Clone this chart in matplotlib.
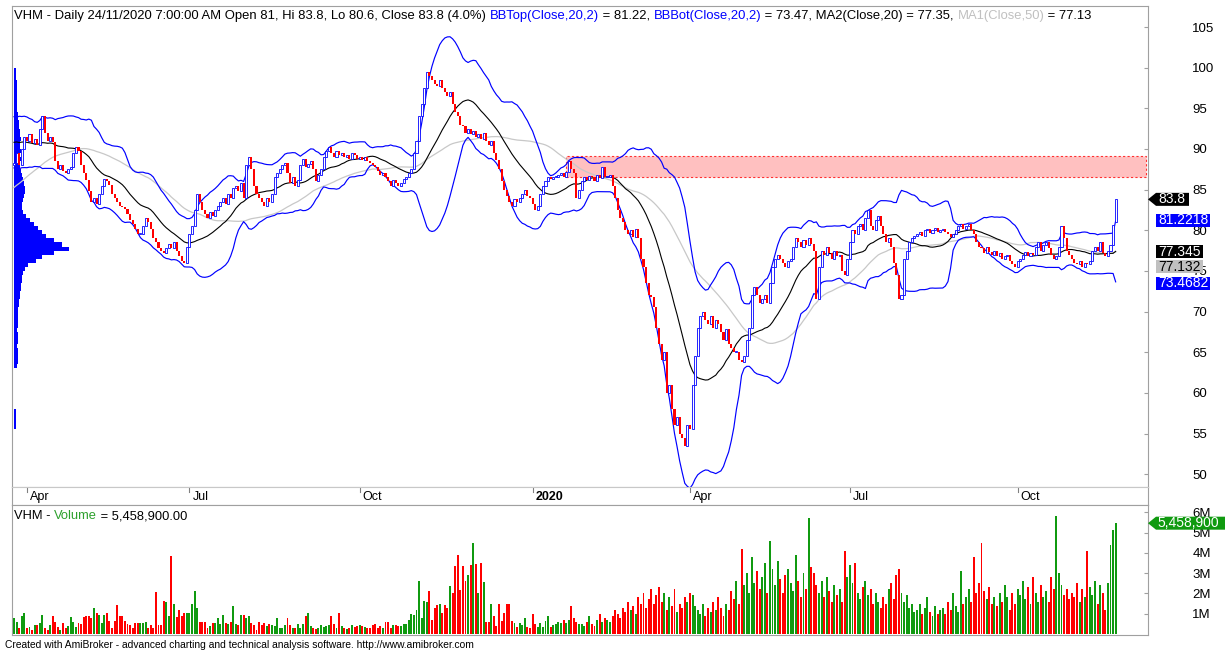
import numpy as np
import pandas as pd
import matplotlib
matplotlib.use("Agg")
import matplotlib.pyplot as plt
from matplotlib.patches import Rectangle, Polygon
from matplotlib.transforms import blended_transform_factory

plt.rcParams['font.family'] = ['Liberation Sans', 'DejaVu Sans']

# closes before the visible window, they only feed the MA / band lines at the left edge
warmup_close = [76.0, 76.5, 77.2, 76.8, 77.5, 78.0, 78.6, 78.2, 79.0, 79.5,
                80.2, 79.8, 80.5, 81.0, 81.6, 81.2, 82.0, 82.5, 83.0, 82.6,
                83.5, 84.0, 84.6, 84.2, 85.0, 85.5, 86.2, 86.8, 87.5,
                87.5, 88.5, 89.5, 89.0, 91.0, 92.0, 93.0, 92.0, 93.0, 91.5,
                90.5, 91.5, 92.5, 92.0, 91.0, 91.5, 92.5, 90.0, 89.0, 88.0]

# daily closes, late Mar 2019 -> 24/11/2020
close = [88.3, 89.5, 88.0, 90.0, 91.5, 91.0, 91.8, 90.7, 91.2, 90.5,
         92.5, 94.0, 92.0, 91.0, 91.5, 90.8, 88.5, 87.5, 88.0, 87.3,
         87.0, 87.5, 87.8, 89.5, 90.3, 89.8, 88.0, 87.0, 86.2, 84.8,
         83.5, 84.0, 83.2, 84.5, 85.5, 86.3, 86.0, 85.6, 84.5, 84.0,
         83.5, 83.0, 82.8, 82.6, 82.0, 81.3, 80.8, 80.2, 79.5, 79.5,
         80.5, 81.5, 81.0, 80.2, 79.0, 78.5, 77.8, 77.5, 77.2, 77.8,
         78.3, 77.8, 78.5, 77.5, 76.8, 76.2, 76.0, 78.0, 79.5, 80.5,
         82.5, 84.5, 83.5, 82.5, 82.0, 81.5, 82.3, 81.8, 82.5, 83.0,
         83.5, 84.0, 83.2, 84.5, 84.0, 85.2, 85.5, 84.8, 85.8, 84.0,
         88.0, 89.0, 87.5, 85.5, 84.5, 84.0, 83.5, 83.0, 84.0, 83.5,
         84.5, 86.5, 87.0, 87.5, 88.0, 88.3, 87.0, 85.8, 86.5, 85.5,
         86.2, 88.0, 88.8, 87.8, 88.2, 88.5, 87.5, 86.0, 86.8, 87.5,
         89.0, 89.8, 90.2, 89.5, 89.0, 89.8, 89.2, 89.5, 89.0, 89.3,
         88.8, 89.5, 89.3, 88.8, 89.0, 88.6, 89.0, 88.5, 88.3, 88.0,
         87.8, 87.3, 86.8, 87.0, 86.5, 86.0, 85.5, 86.2, 85.8, 85.5,
         85.8, 86.3, 86.5, 87.0, 87.5, 89.5, 91.0, 94.0, 95.5, 97.5,
         99.5, 99.0, 98.5, 98.0, 97.8, 98.5, 97.5, 97.0, 96.5, 97.0,
         95.5, 94.5, 94.0, 93.0, 92.8, 92.0, 92.5, 91.8, 92.2, 91.5,
         91.8, 91.2, 92.0, 91.0, 90.5, 91.0, 89.5, 88.6, 87.5, 86.0,
         85.0, 84.2, 83.5, 83.0, 83.8, 83.5, 84.0, 84.5, 85.0, 84.2,
         84.0, 83.2, 82.5, 83.0, 84.5, 85.5, 86.0, 86.5, 86.3, 86.5,
         86.5, 86.8, 87.0, 86.5, 87.2, 88.5, 87.5, 87.0, 84.0, 85.0,
         86.0, 86.5, 86.2, 86.7, 86.5, 86.0, 86.8, 86.4, 87.8, 86.5,
         86.5, 86.8, 85.5, 84.0, 82.5, 81.5, 81.0, 80.0, 79.5, 80.0,
         79.2, 80.2, 79.0, 76.5, 75.5, 73.5, 72.0, 71.8, 70.5, 68.0,
         66.0, 64.0, 65.0, 60.0, 61.0, 58.0, 56.0, 57.0, 55.0, 54.5,
         53.5, 56.0, 55.5, 61.0, 64.5, 68.0, 69.5, 70.0, 69.0, 68.5,
         69.5, 68.0, 69.0, 68.5, 67.5, 66.5, 67.8, 66.0, 65.5, 65.0,
         65.0, 64.0, 63.8, 64.5, 66.5, 68.0, 72.0, 73.0, 72.0, 71.0,
         71.5, 72.0, 71.0, 73.5, 75.5, 76.5, 77.0, 76.5, 76.0, 75.5,
         76.2, 76.5, 78.0, 79.0, 78.5, 78.0, 78.8, 78.2, 79.0, 78.3,
         77.5, 71.5, 75.5, 77.5, 77.0, 78.0, 77.2, 76.5, 77.5, 76.8,
         77.0, 75.0, 74.5, 76.5, 78.5, 80.0, 79.5, 80.5, 80.8, 80.0,
         81.5, 82.5, 80.5, 80.0, 81.3, 81.8, 80.5, 79.5, 78.5, 79.0,
         78.0, 76.0, 74.5, 71.5, 72.0, 76.5, 77.5, 78.5, 79.0, 79.3,
         79.5, 79.8, 79.3, 80.0, 80.2, 79.7, 80.0, 80.3, 79.8, 80.0,
         80.2, 79.8, 79.5, 79.2, 79.6, 80.0, 80.5, 80.8, 80.2, 80.5,
         80.8, 80.0, 79.5, 78.5, 78.0, 77.8, 77.2, 78.0, 77.3, 77.0,
         77.5, 76.8, 77.2, 76.5, 76.8, 77.0, 76.2, 75.8, 75.5, 76.2,
         76.5, 77.0, 77.3, 76.8, 77.2, 77.0, 78.0, 78.5, 77.5, 78.2,
         78.5, 77.8, 77.0, 76.5, 76.8, 78.0, 80.5, 79.0, 77.5, 77.0,
         76.5, 76.0, 75.8, 76.2, 75.5, 76.0, 75.8, 76.2, 77.5, 78.0,
         77.5, 78.5, 77.2, 76.8, 77.5, 78.2, 80.6, 83.8]

open_ = [88.0, 88.3, 89.5, 88.0, 90.0, 91.5, 91.0, 91.8, 90.7, 91.2,
         90.5, 92.5, 94.0, 92.0, 91.0, 91.5, 90.8, 88.5, 87.5, 88.0,
         87.3, 87.0, 87.5, 87.8, 89.5, 90.3, 89.8, 88.0, 87.0, 86.2,
         84.8, 83.5, 84.0, 83.2, 84.5, 85.5, 86.3, 86.0, 85.6, 84.5,
         84.0, 83.5, 83.0, 82.8, 82.6, 82.0, 81.3, 80.8, 80.2, 79.5,
         79.5, 80.5, 81.5, 81.0, 80.2, 79.0, 78.5, 77.8, 77.5, 77.2,
         77.8, 78.3, 77.8, 78.5, 77.5, 76.8, 76.2, 76.0, 78.0, 79.5,
         80.5, 82.5, 84.5, 83.5, 82.5, 82.0, 81.5, 82.3, 81.8, 82.5,
         83.0, 83.5, 84.0, 83.2, 84.5, 84.0, 85.2, 85.5, 84.8, 85.8,
         84.0, 88.0, 89.0, 87.5, 85.5, 84.5, 84.0, 83.5, 83.0, 84.0,
         83.5, 84.5, 86.5, 87.0, 87.5, 88.0, 88.3, 87.0, 85.8, 86.5,
         85.5, 86.2, 88.0, 88.8, 87.8, 88.2, 88.5, 87.5, 86.0, 86.8,
         87.5, 89.0, 89.8, 90.2, 89.5, 89.0, 89.8, 89.2, 89.5, 89.0,
         89.3, 88.8, 89.5, 89.3, 88.8, 89.0, 88.6, 89.0, 88.5, 88.3,
         88.0, 87.8, 87.3, 86.8, 87.0, 86.5, 86.0, 85.5, 86.2, 85.8,
         85.5, 85.8, 86.3, 86.5, 87.0, 87.5, 89.5, 91.0, 94.0, 95.5,
         97.5, 99.5, 99.0, 98.5, 98.0, 97.8, 98.5, 97.5, 97.0, 96.5,
         97.0, 95.5, 94.5, 94.0, 93.0, 92.8, 92.0, 92.5, 91.8, 92.2,
         91.5, 91.8, 91.2, 92.0, 91.0, 90.5, 91.0, 89.5, 88.6, 87.5,
         86.0, 85.0, 84.2, 83.5, 83.0, 83.8, 83.5, 84.0, 84.5, 85.0,
         84.2, 84.0, 83.2, 82.5, 83.0, 84.5, 85.5, 86.0, 86.5, 86.3,
         86.5, 86.5, 86.8, 87.0, 86.5, 87.2, 88.5, 87.5, 87.0, 84.0,
         85.0, 86.0, 86.5, 86.2, 86.7, 86.5, 86.0, 86.8, 86.4, 87.8,
         86.5, 86.5, 86.8, 85.5, 84.0, 82.5, 81.5, 81.0, 80.0, 79.5,
         80.0, 79.2, 80.2, 79.0, 76.5, 75.5, 73.5, 72.0, 71.8, 70.5,
         68.0, 66.0, 64.0, 65.0, 60.0, 61.0, 58.0, 56.0, 57.0, 55.0,
         54.5, 53.5, 56.0, 55.5, 61.0, 64.5, 68.0, 69.5, 70.0, 69.0,
         68.5, 69.5, 68.0, 69.0, 68.5, 67.5, 66.5, 67.8, 66.0, 65.5,
         65.0, 65.0, 64.0, 63.8, 64.5, 66.5, 68.0, 72.0, 73.0, 72.0,
         71.0, 71.5, 72.0, 71.0, 73.5, 75.5, 76.5, 77.0, 76.5, 76.0,
         75.5, 76.2, 76.5, 78.0, 79.0, 78.5, 78.0, 78.8, 78.2, 79.0,
         78.3, 77.5, 71.5, 75.5, 77.5, 77.0, 78.0, 77.2, 76.5, 77.5,
         76.8, 77.0, 75.0, 74.5, 76.5, 78.5, 80.0, 79.5, 80.5, 80.8,
         80.0, 81.5, 82.5, 80.5, 80.0, 81.3, 81.8, 80.5, 79.5, 78.5,
         79.0, 78.0, 76.0, 74.5, 71.5, 72.0, 76.5, 77.5, 78.5, 79.0,
         79.3, 79.5, 79.8, 79.3, 80.0, 80.2, 79.7, 80.0, 80.3, 79.8,
         80.0, 80.2, 79.8, 79.5, 79.2, 79.6, 80.0, 80.5, 80.8, 80.2,
         80.5, 80.8, 80.0, 79.5, 78.5, 78.0, 77.8, 77.2, 78.0, 77.3,
         77.0, 77.5, 76.8, 77.2, 76.5, 76.8, 77.0, 76.2, 75.8, 75.5,
         76.2, 76.5, 77.0, 77.3, 76.8, 77.2, 77.0, 78.0, 78.5, 77.5,
         78.2, 78.5, 77.8, 77.0, 76.5, 76.8, 78.0, 80.5, 79.0, 77.5,
         77.0, 76.5, 76.0, 75.8, 76.2, 75.5, 76.0, 75.8, 76.2, 77.5,
         78.0, 77.5, 78.5, 77.2, 76.8, 77.5, 78.2, 81.0]

# volume, millions of shares
volume = [0.78, 0.57, 0.28, 0.90, 1.05, 0.28, 0.35, 0.22, 0.45, 0.45,
          0.55, 0.95, 0.30, 0.20, 0.45, 0.90, 0.60, 0.35, 0.20, 0.55,
          0.30, 0.40, 0.85, 0.60, 0.35, 0.55, 0.50, 0.85, 0.90, 0.90,
          0.80, 1.30, 1.05, 0.95, 0.55, 0.95, 1.05, 0.65, 0.30, 0.65,
          1.45, 0.90, 0.90, 0.65, 0.50, 0.45, 0.30, 0.55, 0.55, 0.55,
          0.55, 0.57, 0.30, 0.45, 0.30, 2.07, 0.45, 0.45, 1.65, 1.57,
          0.90, 3.85, 1.47, 0.83, 1.17, 0.90, 1.05, 1.05, 1.05, 1.48,
          2.12, 1.26, 0.60, 0.60, 0.57, 0.31, 0.40, 0.55, 0.55, 0.80,
          0.50, 0.95, 0.55, 0.50, 0.60, 1.40, 0.50, 0.45, 0.95, 0.95,
          0.80, 0.90, 0.55, 0.45, 0.20, 0.60, 0.45, 0.55, 0.40, 0.50,
          0.45, 0.40, 0.80, 0.30, 0.30, 0.45, 0.80, 0.45, 0.30, 0.30,
          0.50, 0.30, 0.50, 0.90, 1.05, 0.40, 0.30, 0.25, 0.30, 0.45,
          0.35, 0.40, 0.45, 0.90, 0.50, 0.30, 1.05, 0.40, 0.30, 0.25,
          0.30, 0.45, 0.35, 0.40, 0.45, 0.40, 0.35, 0.30, 0.30, 0.45,
          0.50, 0.30, 0.40, 0.30, 0.60, 0.60, 0.30, 0.45, 0.45, 0.40,
          0.40, 0.50, 0.50, 0.70, 1.00, 0.95, 1.20, 2.60, 0.80, 1.65,
          1.60, 2.10, 0.70, 1.26, 1.43, 1.50, 1.05, 1.43, 1.26, 2.35,
          2.03, 3.33, 3.88, 2.17, 3.36, 2.60, 2.90, 3.40, 4.50, 3.45,
          2.03, 3.50, 2.55, 0.60, 0.60, 1.48, 0.90, 0.40, 1.48, 0.65,
          1.05, 1.47, 1.48, 0.65, 0.55, 0.35, 0.55, 0.45, 0.80, 0.35,
          0.30, 1.00, 0.50, 0.35, 0.55, 0.35, 0.65, 0.90, 0.35, 0.45,
          0.50, 0.60, 0.55, 0.70, 0.55, 0.70, 1.40, 0.80, 0.60, 0.50,
          0.50, 0.40, 0.60, 0.90, 0.50, 0.40, 0.70, 1.00, 0.60, 0.80,
          0.70, 0.60, 0.90, 1.20, 1.00, 0.80, 1.30, 1.10, 1.60, 1.20,
          1.40, 1.00, 1.80, 1.50, 2.00, 1.30, 1.70, 2.20, 1.50, 1.90,
          2.30, 1.60, 2.00, 1.20, 1.80, 1.40, 2.20, 1.10, 1.50, 1.30,
          1.80, 1.60, 2.00, 1.90, 1.40, 1.20, 1.00, 1.50, 0.90, 1.30,
          1.10, 1.60, 1.20, 1.80, 1.30, 0.90, 1.50, 1.20, 2.10, 1.70,
          2.60, 1.50, 4.20, 2.40, 3.00, 2.00, 3.80, 2.50, 3.10, 2.20,
          2.80, 3.50, 2.00, 4.60, 3.20, 2.40, 3.60, 2.70, 2.00, 2.90,
          3.20, 2.50, 2.10, 3.90, 2.60, 1.80, 3.00, 2.20, 5.70, 3.30,
          3.00, 2.40, 2.00, 2.60, 1.80, 2.80, 2.10, 1.60, 2.40, 1.90,
          2.20, 1.60, 4.10, 2.80, 3.40, 2.50, 3.50, 2.00, 1.70, 2.30,
          2.60, 1.90, 2.20, 1.50, 2.00, 1.60, 1.30, 1.80, 1.50, 2.20,
          2.50, 1.70, 2.90, 3.20, 2.00, 1.60, 1.90, 1.30, 1.50, 1.10,
          1.20, 1.50, 1.00, 1.30, 1.80, 1.10, 0.90, 1.40, 1.00, 1.20,
          1.30, 1.00, 1.60, 1.20, 2.00, 1.40, 1.10, 3.10, 1.50, 1.80,
          2.20, 1.60, 3.80, 2.00, 2.50, 4.50, 2.10, 1.70, 2.30, 1.50,
          1.80, 1.40, 2.00, 1.60, 2.40, 1.80, 1.20, 2.00, 1.50, 2.20,
          1.90, 2.60, 1.70, 2.30, 1.50, 2.80, 2.00, 1.60, 2.40, 1.80,
          2.10, 1.60, 2.80, 2.20, 5.80, 3.00, 2.40, 1.90, 2.20, 1.70,
          2.00, 1.80, 2.50, 1.60, 2.20, 1.80, 4.10, 2.30, 1.90, 2.60,
          1.50, 2.40, 2.00, 1.20, 2.50, 4.40, 5.10, 5.4589]

# quarter labels on the date axis and the bar each one starts on
month_labels = ["Apr", "Jul", "Oct", "2020", "Apr", "Jul", "Oct"]
month_start = [5, 68, 134, 201, 262, 324, 389]

# volume-at-price profile on the left: price bins of 0.5 from 55.5 up, width in pixels
vap_low = 55.5
vap_width = [1.5, 1.5, 1.5, 1.5, 1.5, 0, 0, 0, 0, 0,
             0, 0, 0, 0, 0, 3, 3.5, 4, 4, 3.5,
             3, 4, 4, 3.5, 3, 3.5, 4, 4, 3.5, 4,
             4.5, 5, 5.5, 6, 7, 7, 7.5, 8, 9, 11,
             14, 22, 28, 40, 55, 48, 40, 32, 28, 24,
             20, 16, 12, 9, 8, 8, 9, 10, 11, 11,
             10, 9, 8, 7, 6, 6, 7, 6, 7, 6,
             6, 7, 6, 6, 5, 5, 4, 4, 3, 3,
             3, 3, 2.5, 2.5, 2.5, 2.5, 2, 2, 2]

# resistance zone drawn on the chart
zone_start = 214
zone_low, zone_high = 86.55, 89.1

# header values shown as tags on the right axis
tag_values = [83.8, 81.2218, 77.345, 77.132, 73.4682]
tag_text = ["83.8", "81.2218", "77.345", "77.132", "73.4682"]
last_volume = 5.4589

W, H = 1225, 650
fig = plt.figure(figsize=(W / 100, H / 100), dpi=100)


def box(x0, y0, x1, y1):
    return fig.add_axes([x0 / W, 1 - y1 / H, (x1 - x0) / W, (y1 - y0) / H])


def bar_at(px):
    return (px - 14) / 2.58


XL, XR = 12, 1148
ax = box(XL, 6, XR, 487)
axd = box(XL, 487, XR, 505)
axv = box(XL, 505, XR, 635)

grid = '#a0a0a0'
for a in (ax, axd, axv):
    a.set_xlim(bar_at(XL), bar_at(XR))
    for s in a.spines.values():
        s.set_color(grid)
        s.set_linewidth(0.8)
    a.tick_params(left=False, bottom=False, labelleft=False, labelbottom=False)

PPX = 8.13      # pixels per price unit
VPX = 20.3      # pixels per million shares
ax.set_ylim(105 - 460 / PPX, 105 + 21 / PPX)
axv.set_ylim(-1 / VPX, 129 / VPX)
axd.set_ylim(0, 1)

n = len(close)
idx = np.arange(n)
c = np.array(close)
o = np.array(open_)
up = c >= o

# volume profile
vw = np.array(vap_width) / 2.58
vp = vap_low + 0.5 * np.arange(len(vap_width))
ax.barh(vp + 0.25, vw, height=0.5, left=bar_at(14), color='#0000ff', linewidth=0, zorder=1)

# zone
ax.add_patch(Rectangle((zone_start, zone_low), bar_at(1146) - zone_start, zone_high - zone_low,
                       facecolor='#ffc0c0', edgecolor='#ff3030', linestyle=(0, (2, 2)),
                       linewidth=0.8, zorder=2))

# indicators
full = pd.Series(warmup_close + close)
n0 = len(warmup_close)
ma20 = full.rolling(20).mean().values[n0:]
sd20 = full.rolling(20).std(ddof=0).values[n0:]
ma50 = full.rolling(50).mean().values[n0:]
ax.plot(idx, ma50, color='#c8c8c8', lw=0.9, zorder=3)
ax.plot(idx, ma20, color='#000000', lw=0.8, zorder=3)
ax.plot(idx, ma20 + 2 * sd20, color='#0000ff', lw=0.85, zorder=3)
ax.plot(idx, ma20 - 2 * sd20, color='#0000ff', lw=0.85, zorder=3)

# candles
lo = np.minimum(o, c)
h = np.maximum(np.abs(c - o), 0.15)
ax.bar(idx[up], h[up], bottom=lo[up], width=0.8, facecolor='white',
       edgecolor='#0000ff', linewidth=0.6, zorder=4)
ax.bar(idx[~up], h[~up], bottom=lo[~up], width=0.8, color='#ff0000',
       linewidth=0, zorder=4)

# volume bars
vol = np.array(volume)
axv.bar(idx[up], vol[up], width=0.75, color='#109a10', linewidth=0)
axv.bar(idx[~up], vol[~up], width=0.75, color='#ff0000', linewidth=0)

# right axis (price)
ax.yaxis.tick_right()
ax.set_yticks(np.arange(50, 106, 5))
ax.tick_params(axis='y', right=True, labelright=True, direction='in', length=3,
               color=grid, pad=32, labelsize=9.5)
axv.yaxis.tick_right()
axv.set_yticks([1, 2, 3, 4, 5, 6])
axv.set_yticklabels(['1M', '2M', '3M', '4M', '5M', '6M'])
axv.tick_params(axis='y', right=True, labelright=True, direction='in', length=3,
                color=grid, pad=32, labelsize=9.5)

# date axis
axd.spines['top'].set_color('#c8c8c8')
for b, lab in zip(month_start, month_labels):
    axd.plot([b, b], [1, 0.7], color='#808080', lw=0.8)
    axd.text(b + 1.2, 0.45, lab, fontsize=9, va='center', ha='left',
             fontweight='bold' if lab.isdigit() else 'normal')


# header line
def chain(ax0, x, y, parts, size):
    t = ax0.text(x, y, parts[0][0], color=parts[0][1], fontsize=size,
                 transform=ax0.transAxes, va='bottom', ha='left')
    for s, col in parts[1:]:
        t = ax0.annotate(s, xy=(1, 0), xycoords=t, va='bottom', ha='left',
                         color=col, fontsize=size)
    return t


blue, gray = '#0000ff', '#c0c0c0'
chain(ax, 0.002, 0.967, [
    ("VHM - Daily 24/11/2020 7:00:00 AM Open 81, Hi 83.8, Lo 80.6, Close 83.8 (4.0%) ", 'k'),
    ("BBTop(Close,20,2)", blue), (" = 81.22, ", 'k'),
    ("BBBot(Close,20,2)", blue), (" = 73.47, MA2(Close,20) = 77.35, ", 'k'),
    ("MA1(Close,50)", gray), (" = 77.13", 'k')], 9.4)
chain(axv, 0.002, 0.868, [("VHM - ", 'k'), ("Volume", '#2ca02c'),
                          (" = 5,458,900.00", 'k')], 9.3)

fig.text(5 / W, 1 - 645 / H, "Created with AmiBroker - advanced charting and technical "
         "analysis software. http://www.amibroker.com", fontsize=7.4, va='center')

# value tags on the right axis
trf = blended_transform_factory(fig.transFigure, ax.transData)
tag_face = ['#000000', blue, '#000000', gray, blue]
tag_fg = ['white', 'white', 'white', 'black', 'white']
prev = None
for k, (val, txt) in enumerate(zip(tag_values, tag_text)):
    y = val
    if prev is not None and prev - y < 15 / PPX:
        y = prev - 15 / PPX
    prev = y
    hh = 6.5 / PPX
    x0, x1 = 1156 / W, (1156 + 7 * len(txt) + 5) / W
    if k == 0:
        pts = [(1148 / W, y), (x0, y + hh), (x1, y + hh), (x1, y - hh), (x0, y - hh)]
    else:
        pts = [(x0, y + hh), (x1, y + hh), (x1, y - hh), (x0, y - hh)]
    ax.add_patch(Polygon(pts, closed=True, transform=trf, facecolor=tag_face[k],
                         edgecolor='none', clip_on=False, zorder=6))
    ax.text(x0 + 2 / W, y, txt, transform=trf, color=tag_fg[k], fontsize=10,
            va='center', ha='left', zorder=7, clip_on=False)

trv = blended_transform_factory(fig.transFigure, axv.transData)
hv = 6.5 / VPX
pts = [(1148 / W, last_volume), (1156 / W, last_volume + hv), (1.01, last_volume + hv),
       (1.01, last_volume - hv), (1156 / W, last_volume - hv)]
axv.add_patch(Polygon(pts, closed=True, transform=trv, facecolor='#109a10',
                      edgecolor='none', clip_on=False, zorder=6))
axv.text(1157 / W, last_volume, "5,458,900", transform=trv, color='white', fontsize=10,
         va='center', ha='left', zorder=7, clip_on=False)

fig.savefig("out.png", dpi=100, facecolor='white')
